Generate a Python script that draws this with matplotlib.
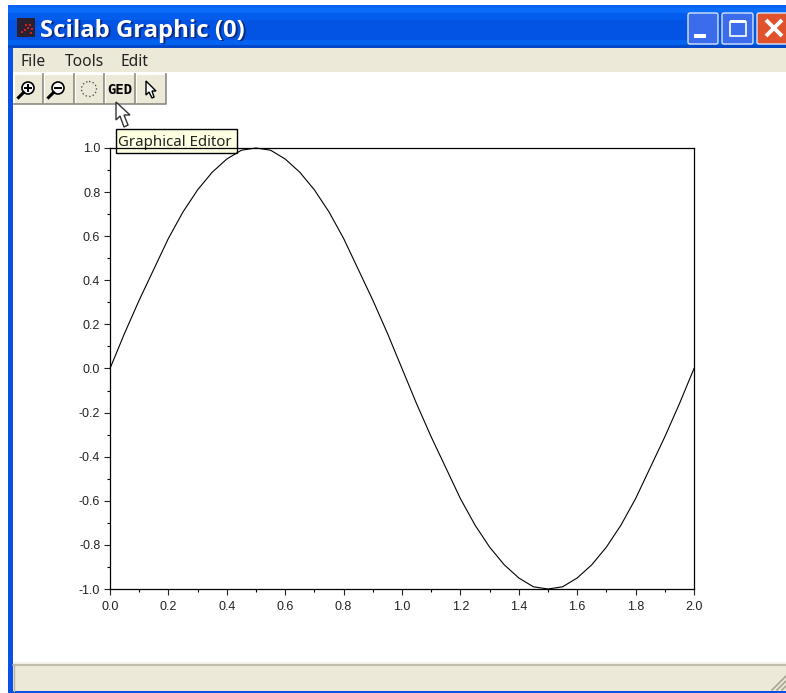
import matplotlib
matplotlib.use('Agg')
import matplotlib.pyplot as plt
from matplotlib.patches import Rectangle, FancyBboxPatch, Polygon, Circle
from matplotlib.ticker import MultipleLocator

W, H = 786, 693

x_values = [0.0, 0.05, 0.1, 0.15, 0.2, 0.25, 0.3, 0.35, 0.4, 0.45, 0.5,
            0.55, 0.6, 0.65, 0.7, 0.75, 0.8, 0.85, 0.9, 0.95, 1.0,
            1.05, 1.1, 1.15, 1.2, 1.25, 1.3, 1.35, 1.4, 1.45, 1.5,
            1.55, 1.6, 1.65, 1.7, 1.75, 1.8, 1.85, 1.9, 1.95, 2.0]
y_values = [0.0, 0.16, 0.31, 0.45, 0.59, 0.71, 0.81, 0.89, 0.95, 0.99, 1.0,
            0.99, 0.95, 0.89, 0.81, 0.71, 0.59, 0.45, 0.31, 0.16, 0.0,
            -0.16, -0.31, -0.45, -0.59, -0.71, -0.81, -0.89, -0.95, -0.99, -1.0,
            -0.99, -0.95, -0.89, -0.81, -0.71, -0.59, -0.45, -0.31, -0.16, 0.0]

window_title = 'Scilab Graphic (0)'
menu_items = ['File', 'Tools', 'Edit']
menu_x = [21, 65, 121]
tooltip_text = 'Graphical Editor'

BEIGE = '#ECE9D8'
BLUE = '#0454E4'

fig = plt.figure(figsize=(W / 100, H / 100), dpi=100, facecolor='white')

# Window chrome is drawn in pixel coordinates on a full figure axes
ui = fig.add_axes([0, 0, 1, 1], zorder=1)
ui.set_xlim(0, W)
ui.set_ylim(H, 0)
ui.axis('off')


def box(x0, y0, x1, y1, color, **kw):
    ui.add_patch(Rectangle((x0, y0), x1 - x0, y1 - y0, facecolor=color, edgecolor='none', **kw))


# Title bar, borders, menu, status bar
box(8, 5, W, 48, BLUE)
box(8, 5, W, 8, '#0A62F0')
box(8, 8, W, 13, '#0A6CF8')
box(8, 13, W, 20, '#045CEC')
box(8, 40, W, 45, '#0462F0')
box(8, 45, W, 48, '#0348C8')
box(8, 48, 13, H, '#0A50E6')
box(13, 48, W, 72, BEIGE)
box(13, 662, W, 665, '#F4F2E8')
box(13, 665, W, 691, BEIGE)
ui.plot([13, W], [665, 665], color='#B8B4A0', lw=1.2)
box(8, 691, W, H, '#0A50E6')
ui.plot([14, 14], [665, 691], color='#B8B4A0', lw=1)

# Resize grip in the status bar corner
for off in [0, 5, 10]:
    ui.plot([772 + off, 786], [690, 676 + off], color='#A8A492', lw=1.2)

# Title icon and text
box(17, 18, 35, 37, '#2A2030')
for px, py in [(21, 31), (24, 29), (27, 27), (29, 24), (31, 28), (25, 24), (30, 32)]:
    box(px, py, px + 2, py + 2, '#D82020')
ui.text(41.5, 32.5, window_title, color='#0A2A80', fontsize=17.2, fontweight='bold',
        family='Open Sans', va='center', ha='left')
ui.text(40, 31, window_title, color='white', fontsize=17.2, fontweight='bold',
        family='Open Sans', va='center', ha='left')

# Minimize, maximize and close buttons
for x0, x1, col in [(688, 718, '#3A6CEC'), (722, 753, '#3A6CEC'), (757, 790, '#E0522C')]:
    ui.add_patch(FancyBboxPatch((x0 + 2, 15), x1 - x0 - 4, 27, boxstyle='round,pad=2',
                                facecolor=col, edgecolor='#D8E4FA', lw=1))
box(694, 34, 706, 38, 'white')
ui.add_patch(Rectangle((730, 22), 16, 14, facecolor='none', edgecolor='white', lw=1.2))
box(730, 20, 746, 23, 'white')
ui.plot([766, 782], [20, 36], color='white', lw=2.8, solid_capstyle='butt')
ui.plot([766, 782], [36, 20], color='white', lw=2.8, solid_capstyle='butt')

for label, mx in zip(menu_items, menu_x):
    ui.text(mx, 61.5, label, fontsize=11.2, family='Noto Sans', color='#222222',
            va='center', ha='left')

# Toolbar buttons
for x0, x1 in [(14, 43), (44, 74), (75, 104), (105, 135), (136, 166)]:
    box(x0, 74, x1, 104, BEIGE)
    ui.plot([x0, x0, x1], [104, 74, 74], color='white', lw=0.8)
    ui.plot([x0, x1, x1], [104, 104, 74], color='#8C8A80', lw=1.2)

for cx, sign in [(28, '+'), (58, '-')]:
    ui.add_patch(Circle((cx, 88), 6, facecolor='white', edgecolor='black', lw=1.2))
    ui.plot([cx - 4.5, cx - 9.5], [92.5, 97.5], color='black', lw=2.2)
    ui.plot([cx - 3, cx + 3], [88, 88], color='black', lw=1.4)
    if sign == '+':
        ui.plot([cx, cx], [85, 91], color='black', lw=1.4)
ui.add_patch(Circle((89, 89), 7.5, facecolor='none', edgecolor='#555555', lw=1, ls=':'))
ui.text(120, 90, 'GED', fontsize=10, fontweight='bold', family='DejaVu Sans Mono', color='black',
        va='center', ha='center')
ui.add_patch(Polygon([(146, 81), (146, 95), (149, 92), (152, 98), (154, 97), (152, 91), (156, 91)],
                     closed=True, facecolor='white', edgecolor='black', lw=1))

# Tooltip and mouse pointer
ui.add_patch(Rectangle((115.5, 128.5), 121, 24, facecolor='#FFFFE1', edgecolor='black', lw=1, zorder=6))
ui.text(118, 142, tooltip_text, fontsize=10.8, family='Noto Sans', color='#222222',
        va='center', ha='left', zorder=7)
ui.add_patch(Polygon([(116, 102), (116, 120), (120, 116), (124, 127), (128, 125), (124, 115), (130, 115)],
                     closed=True, facecolor='white', edgecolor='#333333', lw=1, zorder=5))

# Plot area spans x 110-694 and y 148-589 in pixels
ax = fig.add_axes([110 / W, 1 - 589 / H, 584 / W, 441 / H], zorder=2)
ax.patch.set_alpha(0)
ax.plot(x_values, y_values, color='black', lw=0.8, clip_on=False)
ax.set_xlim(0, 2)
ax.set_ylim(-1, 1)
ax.xaxis.set_major_locator(MultipleLocator(0.2))
ax.xaxis.set_minor_locator(MultipleLocator(0.1))
ax.yaxis.set_major_locator(MultipleLocator(0.2))
ax.yaxis.set_minor_locator(MultipleLocator(0.1))
ax.xaxis.set_major_formatter(lambda v, pos: f'{v:.1f}')
ax.yaxis.set_major_formatter(lambda v, pos: f'{v:.1f}')
ax.tick_params(which='major', length=4.5, width=0.8, pad=2.5, labelsize=9, colors='#222222')
ax.tick_params(axis='x', which='major', pad=4)
ax.tick_params(which='minor', length=2.2, width=0.8)
for lab in ax.get_xticklabels() + ax.get_yticklabels():
    lab.set_family('Liberation Sans')
for s in ax.spines.values():
    s.set_linewidth(0.9)

fig.savefig('out.png', dpi=100)
